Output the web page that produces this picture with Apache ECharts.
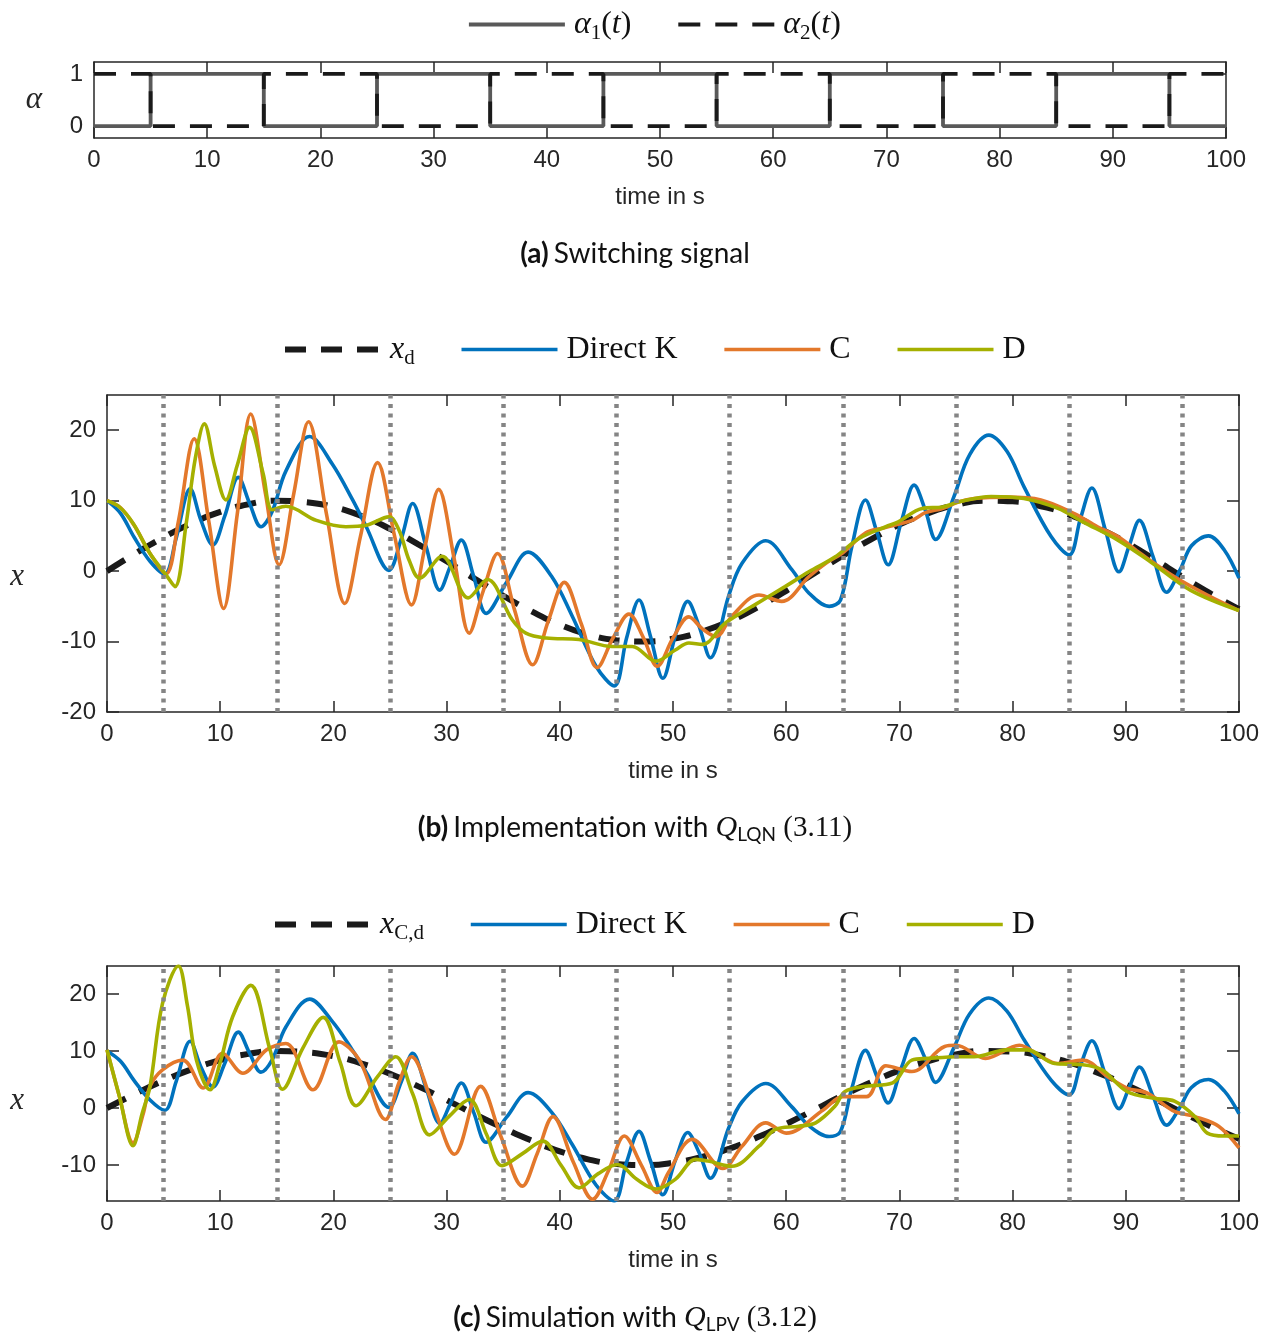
<!DOCTYPE html>
<html>
<head>
<meta charset="utf-8">
<script src="https://cdn.jsdelivr.net/npm/echarts@6/dist/echarts.min.js"></script>
<style>
  html, body { margin: 0; padding: 0; background: #fff; }
  #chart { width: 1270px; height: 1335px; }
</style>
</head>
<body>
<div id="chart"></div>
<script>
// ---- data ----

// (a) switching signal, step points
const switchT = [0, 5, 15, 25, 35, 45, 55, 65, 75, 85, 95, 100];
const alpha1 = [0, 1, 0, 1, 0, 1, 0, 1, 0, 1, 0, 0];
const alpha2 = [1, 0, 1, 0, 1, 0, 1, 0, 1, 0, 1, 1];
// switching instants shown as dotted lines in (b) and (c)
const switchLines = [5, 15, 25, 35, 45, 55, 65, 75, 85, 95];

// reference trajectory, sampled every 2.5 s (same curve in b and c)
const refT = [0, 2.5, 5, 7.5, 10, 12.5, 15, 17.5, 20, 22.5, 25, 27.5, 30, 32.5, 35, 37.5, 40,
  42.5, 45, 47.5, 50, 52.5, 55, 57.5, 60, 62.5, 65, 67.5, 70, 72.5, 75, 77.5, 80, 82.5, 85,
  87.5, 90, 92.5, 95, 97.5, 100];
const xRef = [0, 2.5, 4.8, 6.8, 8.4, 9.5, 10, 9.8, 9.1, 7.8, 6, 3.8, 1.4, -1.1, -3.5, -5.7, -7.6,
  -9, -9.8, -10, -9.6, -8.6, -7.1, -5.1, -2.8, -0.3, 2.2, 4.5, 6.6, 8.2, 9.4, 10, 9.9, 9.2, 8,
  6.2, 4.1, 1.7, -0.8, -3.2, -5.4];

// Direct K (identical in b and c): [t, x]
const directK = [[0, 10], [1.2, 8.2], [2.4, 4.8], [3.8, 1.4], [5.1, -0.4], [6.1, 4.6], [7.35, 11.7],
  [8.3, 7.2], [9.35, 3.7], [10.4, 7.8], [11.6, 13.3], [12.6, 9.6], [13.6, 6.3], [14.6, 8.5],
  [15.8, 14.2], [17.9, 19.1], [19.9, 15.2], [21.7, 10.1], [22.9, 6.3], [24.9, 0.1], [26, 4.6],
  [27, 9.6], [28.2, 3.4], [29.4, -2.7], [30.3, 0.6], [31.3, 4.4], [32.4, -0.8], [33.5, -6],
  [35.3, -1.6], [37.2, 2.7], [39.3, -0.8], [41.1, -6.4], [43.2, -13.5], [44.8, -16.3],
  [45.9, -9.5], [47, -4.1], [48, -9.2], [49.1, -15.2], [50.2, -9.2], [51.3, -4.3], [52.3, -7.8],
  [53.3, -12.3], [54.9, -3.6], [56.1, 1.1], [58.2, 4.3], [60.5, 0.2], [62, -3.1], [63.8, -5],
  [64.8, -4.1], [65.8, 3.5], [67, 10.1], [68, 5.6], [69, 0.9], [70.2, 7.2], [71.3, 12.2],
  [72.3, 8.6], [73.2, 4.5], [74.8, 10.5], [76.2, 16.5], [77.9, 19.3], [79.5, 17], [81, 12],
  [83.4, 4.9], [85, 2.3], [86, 7.5], [87, 11.8], [88.2, 5.8], [89.4, -0.1], [90.3, 3.6],
  [91.2, 7.2], [92.4, 2.1], [93.6, -3], [94.8, 0.2], [95.8, 3.6], [97.3, 5], [98.7, 3], [100, -1]];

// (b) C and D with Q_LQN
const cLQN = [[0, 10], [1.2, 9], [2.4, 6.5], [3.8, 2.5], [5.2, -0.4], [6.3, 7], [7.7, 18.8], [9, 7],
  [10.3, -5.3], [11.5, 8], [12.7, 22.3], [14, 11], [15.2, 0.9], [16.5, 11], [17.8, 21.2], [19.4, 8],
  [21, -4.6], [22.4, 5], [23.9, 15.4], [25.4, 5], [26.9, -4.8], [28.1, 3.5], [29.3, 11.6],
  [30.7, 1.5], [32, -8.8], [33.2, -3], [34.5, 2.5], [36, -5.5], [37.6, -13.3], [39, -7],
  [40.4, -1.6], [41.9, -7.5], [43.3, -13.7], [44.7, -9.5], [46.1, -6.1], [47.4, -9.5],
  [48.6, -13.5], [50, -9.5], [51.4, -6.5], [52.6, -8.2], [53.8, -9.3], [55.2, -6.4], [57.6, -3.4],
  [59.6, -4.3], [62, -0.8], [63.5, 1.1], [65, 2.6], [67, 5.4], [68.5, 6.1], [71.1, 7.2],
  [72.3, 8.3], [73.8, 8.9], [75.2, 9.8], [76.6, 10.3], [79.5, 10.5], [82.5, 10.1], [85.4, 8.2],
  [87.5, 6.3], [89.3, 4.9], [91.3, 2.5], [94.3, -0.8], [97.2, -3.4], [100, -5.6]];
const dLQN = [[0, 10], [1.1, 9.1], [2.3, 6.8], [3.8, 2.5], [5.2, -0.5], [6, -2.2], [7, 6.8], [7.8, 16],
  [8.6, 20.9], [9.5, 15], [10.5, 10.1], [11.5, 15], [12.6, 20.4], [13.8, 13.8], [14.6, 8.7],
  [15.8, 9.2], [18.5, 7.2], [21.1, 6.3], [22.9, 6.5], [24.9, 7.7], [25.8, 5.8], [26.7, 1.5],
  [27.6, -1], [29.6, 2.1], [31.9, -3.8], [33.6, -1.2], [35.8, -6.9], [37, -8.8], [38.8, -9.5],
  [41.7, -9.7], [44.6, -10.7], [46.4, -10.7], [48.5, -12.8], [50.2, -11.2], [51.4, -10.2],
  [52.6, -10.4], [54.6, -7.4], [57, -5], [59.9, -2.2], [62, -0.1], [64.3, 2], [66.4, 4.6],
  [68.8, 6.3], [69.9, 7], [72, 8.9], [73.8, 9.1], [75.2, 9.8], [78.1, 10.6], [81, 10.3], [84, 8.9],
  [86.2, 7], [89.3, 4.4], [92.2, 1.3], [95.7, -2.7], [100, -5.6]];

// (c) C and D with Q_LPV
const cLPV = [[0, 10.2], [1.1, 2], [2.3, -6.1], [3.2, -1], [3.8, 3.8], [4.9, 6.7], [6.7, 8.4],
  [8.5, 3.5], [10.2, 9.6], [12, 6.1], [14.1, 10.2], [15.8, 11.3], [18.2, 3.2], [20.5, 11.6],
  [22.3, 8.4], [24.6, -2], [25.8, 4.5], [26.9, 9], [28.8, 0.5], [30.7, -8.1], [33, 3.8], [34.8, -5],
  [36.7, -13.7], [38, -8], [39.4, -1.5], [41.2, -9.5], [42.9, -16], [44.3, -11], [45.7, -4.9],
  [47.2, -10], [48.6, -14.8], [49.6, -11.3], [51.7, -5.5], [54.4, -10.6], [56.1, -6.7], [58.2, -2.6],
  [60, -4.4], [63.3, -0.3], [65, 2], [67.1, 2], [68.8, 7.4], [71.1, 6.4], [74, 10.8], [75, 11],
  [77.6, 8.7], [80.6, 11], [82.5, 9], [84, 7.8], [86.2, 8.4], [88.4, 5.5], [90.1, 3.5], [91.9, 2.6],
  [94.3, -0.6], [96.1, -1.5], [98.2, -3.2], [100, -7]];
const dLPV = [[0, 10.2], [1.1, 2], [2.3, -6.6], [3.1, -1], [3.8, 3.8], [4.9, 18.3], [6.3, 24.9],
  [7.1, 18], [7.9, 8.4], [9.1, 3.2], [10, 8], [11.1, 16], [12.7, 21.5], [14.4, 10.2], [15.5, 3.3],
  [17.3, 10.5], [19.1, 15.9], [20.6, 8], [22, 0.4], [23.9, 5.5], [25.5, 9], [27, 2.5], [28.5, -4.7],
  [30.2, -1.5], [32, 1.5], [33.5, -4.5], [34.9, -10.1], [36.7, -8], [38.5, -5.8], [40.1, -10],
  [41.7, -14], [43.4, -11.5], [45.1, -9.9], [46.8, -12.5], [48.5, -14.2], [50.2, -12.5], [52, -9],
  [53.1, -9.3], [55.2, -10.2], [57.6, -6.7], [59, -3.8], [61.1, -3.2], [62.6, -2.6], [64.3, 0.3],
  [65.2, 2.9], [67, 3.8], [69.4, 4.4], [71.1, 8.4], [72.6, 8.7], [75.2, 9], [76.6, 9], [79.5, 10.2],
  [81.3, 10.2], [83.7, 7.8], [86.2, 7.6], [87.9, 6.7], [90.1, 2.9], [92.5, 1.7], [94.3, 1.2],
  [96.1, -1.5], [97.2, -4.4], [98.7, -4.9], [100, -4.9]];

// ---- styling ----
const SANS = '"Liberation Sans", Arial, sans-serif';
const SERIF = '"Liberation Serif", "Times New Roman", serif';
const CAP = 'Lato, "Open Sans", sans-serif';
const INK = '#262626';
const BLUE = '#0072BD', ORANGE = '#E3782B', GREEN = '#A5B000';

const chart = echarts.init(document.getElementById('chart'));

function xPair(grid) {
  const base = {
    type: 'value', gridIndex: grid, min: 0, max: 100, interval: 10,
    axisLine: { show: true, onZero: false, lineStyle: { color: INK, width: 1.5 } },
    axisTick: { show: true, inside: true, length: 11, lineStyle: { color: INK, width: 1.5 } },
    splitLine: { show: false }
  };
  return [
    Object.assign({}, base, {
      position: 'bottom',
      axisLabel: { margin: 10, fontFamily: SANS, fontSize: 24, color: INK },
      name: 'time in s', nameLocation: 'middle', nameGap: 47,
      nameTextStyle: { fontFamily: SANS, fontSize: 24, color: INK }
    }),
    Object.assign({}, base, { position: 'top', axisLabel: { show: false } })
  ];
}

// y axis name is drawn as rich text so it can sit below the axis middle, as in the figure
function yPair(grid, min, max, ticks, name, nameGap, namePad) {
  const base = {
    type: 'value', gridIndex: grid, min: min, max: max,
    axisLine: { show: true, onZero: false, lineStyle: { color: INK, width: 1.5 } },
    axisTick: { show: true, inside: true, length: 12, customValues: ticks, lineStyle: { color: INK, width: 1.5 } },
    splitLine: { show: false }
  };
  return [
    Object.assign({}, base, {
      position: 'left',
      axisLabel: { customValues: ticks, margin: 11, fontFamily: SANS, fontSize: 24, color: INK },
      name: '{v|' + name + '}', nameLocation: 'middle', nameRotate: 0, nameGap: nameGap,
      nameTextStyle: {
        rich: {
          v: {
            fontFamily: SERIF, fontStyle: 'italic', fontSize: 31, lineHeight: 34, color: INK,
            padding: [namePad, 0, 0, 0]
          }
        }
      }
    }),
    Object.assign({}, base, { position: 'right', axisLabel: { show: false } })
  ];
}

const legendRich = {
  m: { fontFamily: SERIF, fontStyle: 'italic', fontSize: 32, lineHeight: 36, color: '#111' },
  r: { fontFamily: SERIF, fontSize: 32, lineHeight: 36, color: '#111' },
  s: { fontFamily: SERIF, fontSize: 21, lineHeight: 18, padding: [18, 0, 0, 0], color: '#111' }
};
const legendText = {
  alpha1: '{m|α}{s|1}{r|(}{m|t}{r|)}',
  alpha2: '{m|α}{s|2}{r|(}{m|t}{r|)}',
  xd: '{m|x}{s|d}',
  xCd: '{m|x}{s|C,d}',
  'Direct K': '{r|Direct K}',
  C: '{r|C}',
  D: '{r|D}'
};
function legend(data, left, top) {
  return {
    data: data, left: left, top: top, itemWidth: 96, itemHeight: 20, itemGap: 45,
    selectedMode: false,
    itemStyle: { opacity: 0 },
    lineStyle: { width: 'inherit', type: 'inherit', color: 'inherit' },
    formatter: function (n) { return legendText[n]; },
    textStyle: { rich: legendRich, padding: [0, 0, 0, 4] }
  };
}

const capRich = {
  b: { fontFamily: CAP, fontWeight: 'bold', fontSize: 28, lineHeight: 34, color: '#111' },
  t: { fontFamily: CAP, fontWeight: 'normal', fontSize: 28, lineHeight: 34, color: '#111' },
  q: { fontFamily: SERIF, fontWeight: 'normal', fontStyle: 'italic', fontSize: 30, lineHeight: 34, color: '#111' },
  s: { fontFamily: CAP, fontWeight: 'normal', fontSize: 19, lineHeight: 18, padding: [14, 0, 0, 0], color: '#111' },
  n: { fontFamily: SERIF, fontWeight: 'normal', fontSize: 29, lineHeight: 34, color: '#111' }
};
function caption(text, top) {
  return { text: text, left: 'center', top: top, textStyle: { fontWeight: 'normal', rich: capRich } };
}

function curve(name, data, xi, color, extra) {
  return Object.assign({
    name: name, type: 'line', xAxisIndex: xi, yAxisIndex: xi, data: data,
    symbol: 'none', smooth: 0.35, z: 3,
    lineStyle: { color: color, width: 3.6 }, itemStyle: { color: color }
  }, extra || {});
}

function refCurve(name, xi) {
  return {
    name: name, type: 'line', xAxisIndex: xi, yAxisIndex: xi, z: 2,
    data: refT.map((t, i) => [t, xRef[i]]), symbol: 'none', smooth: true,
    lineStyle: { color: '#1a1a1a', width: 6, type: [21, 15] }, itemStyle: { color: '#1a1a1a' },
    markLine: {
      silent: true, symbol: ['none', 'none'], label: { show: false },
      lineStyle: { color: '#858585', width: 4.5, type: [4, 5.5] },
      emphasis: { disabled: true },
      data: switchLines.map(t => ({ xAxis: t }))
    }
  };
}

const option = {
  animation: false,
  backgroundColor: '#fff',
  grid: [
    { left: 94, top: 62, width: 1132, height: 76 },
    { left: 107, top: 395, width: 1132, height: 317 },
    { left: 107, top: 966, width: 1132, height: 235 }
  ],
  xAxis: [].concat(xPair(0), xPair(1), xPair(2)),
  yAxis: [].concat(
    yPair(0, -0.23, 1.23, [0, 1], 'α', 52, 0),
    yPair(1, -20, 25, [-20, -10, 0, 10, 20], 'x', 83, 46),
    yPair(2, -16.3, 24.9, [-10, 0, 10, 20], 'x', 83, 34)
  ),
  legend: [
    legend(['alpha1', 'alpha2'], 462, 0),
    legend(['xd', 'Direct K', 'C', 'D'], 277, 325),
    legend(['xCd', 'Direct K', 'C', 'D'], 267, 900)
  ],
  title: [
    caption('{b|(a)} {t|Switching signal}', 232),
    caption('{b|(b)} {t|Implementation with }{q|Q}{s|LQN}{n| (3.11)}', 806),
    caption('{b|(c)} {t|Simulation with }{q|Q}{s|LPV}{n| (3.12)}', 1296)
  ],
  series: [
    curve('alpha1', switchT.map((t, i) => [t, alpha1[i]]), 0, '#595959',
      { step: 'end', smooth: false, lineStyle: { color: '#595959', width: 3.8 } }),
    curve('alpha2', switchT.map((t, i) => [t, alpha2[i]]), 0, '#1a1a1a',
      { step: 'end', smooth: false, z: 4, lineStyle: { color: '#1a1a1a', width: 3.8, type: [22, 15] } }),

    refCurve('xd', 2),
    curve('Direct K', directK, 2, BLUE),
    curve('C', cLQN, 2, ORANGE),
    curve('D', dLQN, 2, GREEN),

    refCurve('xCd', 4),
    curve('Direct K', directK, 4, BLUE),
    curve('C', cLPV, 4, ORANGE),
    curve('D', dLPV, 4, GREEN)
  ]
};

chart.setOption(option);
</script>
</body>
</html>
